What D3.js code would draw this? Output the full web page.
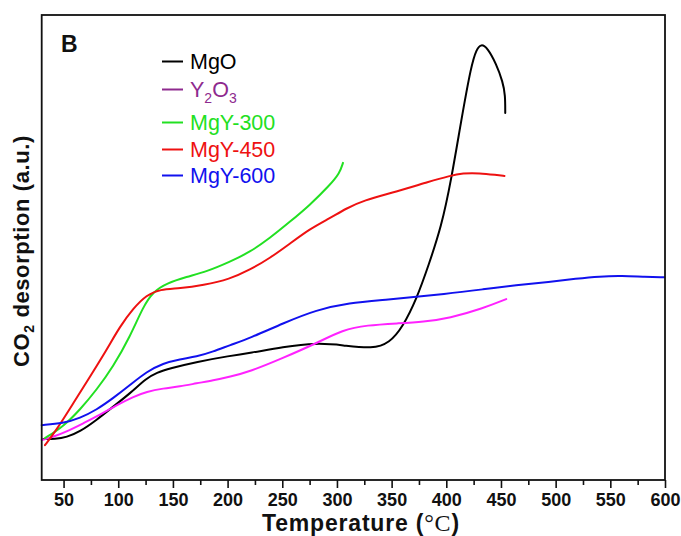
<!DOCTYPE html>
<html>
<head>
<meta charset="utf-8">
<script src="https://cdn.jsdelivr.net/npm/d3@7/dist/d3.min.js"></script>
<style>
  html, body { margin: 0; padding: 0; background: #fff; }
  svg { display: block; }
  text { font-family: "Liberation Sans", Arial, sans-serif; }
</style>
</head>
<body>
<svg id="chart" width="681" height="536"></svg>
<script>
// CO2-TPD profiles: [temperature (°C), desorption signal (a.u.)]
const mgO = [
  [31.5, 8.8], [42.1, 8.8], [52.8, 9.2], [65.0, 10.4], [80.2, 12.9], [95.4, 15.8],
  [110.7, 18.6], [125.9, 21.9], [135.1, 23.1], [147.2, 24.0], [171.6, 25.4],
  [202.0, 26.7], [220.3, 27.3], [250.4, 28.6], [281.5, 29.5], [305.2, 29.0],
  [332.6, 28.2], [348.2, 29.5], [360.1, 32.9], [372.8, 38.9], [383.8, 46.2],
  [395.4, 54.4], [404.5, 64.5], [413.7, 77.4], [422.8, 89.2], [427.7, 92.7],
  [431.9, 93.8], [437.7, 92.9], [445.6, 89.5], [451.7, 85.6], [453.9, 82.8],
  [453.9, 78.9]
];
const y2o3 = [
  [30.0, 8.6], [40.6, 9.3], [52.8, 10.4], [68.0, 12.2], [83.3, 14.0], [98.5, 16.1],
  [113.7, 17.9], [125.9, 19.0], [141.1, 19.7], [156.3, 20.1], [171.6, 20.8],
  [186.8, 21.4], [202.0, 22.2], [220.3, 23.3], [250.4, 26.2], [281.2, 29.4],
  [305.5, 32.3], [326.9, 33.3], [357.3, 33.7], [378.6, 34.0], [403.0, 34.8],
  [433.4, 36.9], [454.8, 38.9]
];
const mgY300 = [
  [33.0, 9.0], [49.7, 11.5], [65.0, 15.1], [80.2, 19.4], [95.4, 24.4], [110.7, 30.8],
  [122.8, 37.3], [132.0, 40.5], [144.2, 42.3], [162.5, 43.7], [180.7, 44.8],
  [202.0, 46.9], [220.3, 49.0], [238.6, 52.0], [256.8, 55.5], [275.1, 59.1],
  [293.4, 63.4], [302.5, 66.0], [305.5, 68.2]
];
const mgY450 = [
  [33.0, 7.5], [43.7, 10.8], [58.9, 16.5], [74.1, 22.2], [89.4, 28.0], [101.5, 33.0],
  [113.7, 36.9], [125.9, 39.8], [138.1, 41.0], [156.3, 41.2], [177.6, 41.9],
  [202.0, 43.2], [220.3, 45.2], [238.6, 47.7], [256.8, 50.8], [275.1, 54.0],
  [293.4, 56.3], [308.6, 58.4], [323.8, 60.1], [354.3, 62.0], [384.7, 64.2],
  [403.0, 65.4], [415.1, 66.0], [430.4, 66.0], [445.6, 65.6], [453.2, 65.4]
];
const mgY600 = [
  [30.0, 11.8], [49.7, 12.2], [65.0, 13.3], [80.2, 15.1], [95.4, 17.6], [110.7, 20.4],
  [125.9, 23.3], [141.1, 25.1], [156.3, 26.0], [171.6, 26.5], [186.8, 27.6],
  [202.0, 29.0], [220.3, 30.5], [250.7, 33.7], [281.2, 36.6], [311.6, 38.1],
  [341.8, 38.7], [403.0, 40.1], [433.4, 41.0], [463.9, 41.9], [494.3, 42.6],
  [518.7, 43.3], [540.0, 43.8], [561.3, 43.9], [579.6, 43.7], [599.4, 43.6]
];

const seriesNames = ["MgO", "Y2O3", "MgY-300", "MgY-450", "MgY-600"];
const seriesData = [mgO, y2o3, mgY300, mgY450, mgY600];
const lineColors = ["#000000", "#ff22ff", "#22e022", "#ee1111", "#1111ee"];
const legendColors = ["#000000", "#8e2a8e", "#22e022", "#ee1111", "#1111ee"];
const majorTicks = [50, 100, 150, 200, 250, 300, 350, 400, 450, 500, 550, 600];
const minorTicks = [75, 125, 175, 225, 275, 325, 375, 425, 475, 525, 575];

const svg = d3.select("#chart");
const plot = { left: 41.7, right: 665, top: 15, bottom: 480 };

const x = d3.scaleLinear().domain([30, 600]).range([plot.left, plot.right]);
const y = d3.scaleLinear().domain([0, 100]).range([plot.bottom, plot.top]);

// smoothed curves
const line = d3.line()
  .x(d => x(d[0]))
  .y(d => y(d[1]))
  .curve(d3.curveBasis);

svg.append("g")
  .selectAll("path")
  .data(seriesData)
  .join("path")
  .attr("d", line)
  .attr("fill", "none")
  .attr("stroke", (d, i) => lineColors[i])
  .attr("stroke-width", 2)
  .attr("stroke-linejoin", "round")
  .attr("stroke-linecap", "round");

// plot frame
svg.append("rect")
  .attr("x", plot.left).attr("y", plot.top)
  .attr("width", plot.right - plot.left).attr("height", plot.bottom - plot.top)
  .attr("fill", "none").attr("stroke", "#111").attr("stroke-width", 1.8);

// bottom axis: major ticks with labels, minor ticks without
const xAxis = svg.append("g")
  .attr("transform", `translate(0,${plot.bottom})`)
  .call(d3.axisBottom(x).tickValues(majorTicks).tickSize(8).tickPadding(5).tickFormat(d3.format("d")));
xAxis.select(".domain").remove();
xAxis.selectAll(".tick line").attr("stroke", "#111").attr("stroke-width", 1.6);
xAxis.selectAll(".tick text")
  .attr("fill", "#111")
  .style("font-family", "'Liberation Sans', Arial, sans-serif")
  .style("font-size", "18px").style("font-weight", "bold");

const xMinor = svg.append("g")
  .attr("transform", `translate(0,${plot.bottom})`)
  .call(d3.axisBottom(x).tickValues(minorTicks).tickSize(5).tickFormat(""));
xMinor.select(".domain").remove();
xMinor.selectAll(".tick line").attr("stroke", "#111").attr("stroke-width", 1.6);

// axis titles
const xTitle = svg.append("text")
  .attr("x", 361).attr("y", 531)
  .attr("text-anchor", "middle")
  .style("font-size", "23px").style("font-weight", "bold")
  .style("letter-spacing", "0.8px")
  .attr("fill", "#111");
xTitle.append("tspan").text("Temperature (");
xTitle.append("tspan").text("°C")
  .style("font-family", "'Liberation Serif', 'Times New Roman', serif")
  .style("font-weight", "normal").style("font-size", "24px");
xTitle.append("tspan").text(")");

const yTitle = svg.append("text")
  .attr("transform", "translate(29,251) rotate(-90)")
  .attr("text-anchor", "middle")
  .style("font-size", "22px").style("font-weight", "bold")
  .style("letter-spacing", "0.6px")
  .attr("fill", "#111");
yTitle.append("tspan").text("CO");
yTitle.append("tspan").text("2").attr("dy", 5).style("font-size", "14px");
yTitle.append("tspan").text(" desorption (a.u.)").attr("dy", -5);

// panel letter
svg.append("text")
  .attr("x", 61).attr("y", 52)
  .style("font-size", "23px").style("font-weight", "bold")
  .attr("fill", "#111")
  .text("B");

// legend
const legendBaselines = [69, 97, 130, 157, 183];
const legend = svg.append("g");
seriesNames.forEach((name, i) => {
  const by = legendBaselines[i];
  legend.append("line")
    .attr("x1", 162).attr("x2", 183)
    .attr("y1", by - 7.5).attr("y2", by - 7.5)
    .attr("stroke", legendColors[i]).attr("stroke-width", 2);
  const t = legend.append("text")
    .attr("x", 190).attr("y", by)
    .style("font-size", "21.5px")
    .attr("fill", legendColors[i]);
  if (name === "Y2O3") {
    t.append("tspan").text("Y");
    t.append("tspan").text("2").attr("dy", 6).style("font-size", "14px");
    t.append("tspan").text("O").attr("dy", -6);
    t.append("tspan").text("3").attr("dy", 6).style("font-size", "14px");
  } else {
    t.text(name);
  }
});
</script>
</body>
</html>
